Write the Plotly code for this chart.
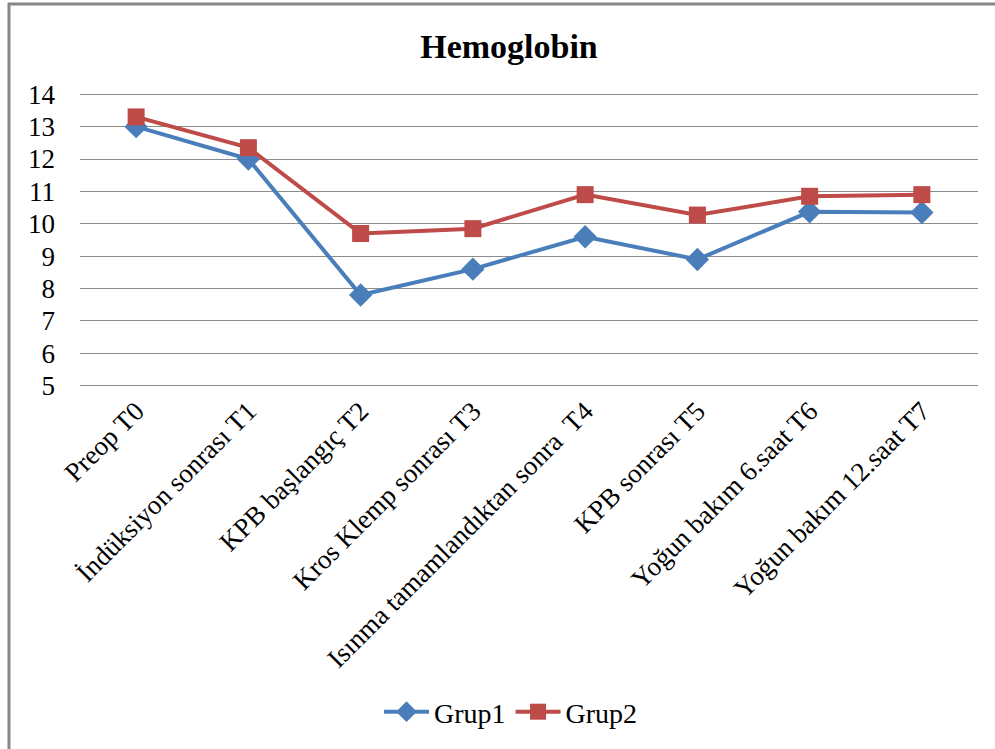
import plotly.graph_objects as go

categories = ["Preop T0", "İndüksiyon sonrası T1", "KPB başlangıç T2", "Kros Klemp sonrası T3",
              "Isınma tamamlandıktan sonra  T4", "KPB sonrası T5", "Yoğun bakım 6.saat T6",
              "Yoğun bakım 12.saat T7"]
grup1 = [13.0, 12.0, 7.8, 8.6, 9.6, 8.9, 10.37, 10.35]
grup2 = [13.3, 12.35, 9.7, 9.85, 10.9, 10.27, 10.85, 10.9]
y_ticks = [5, 6, 7, 8, 9, 10, 11, 12, 13, 14]

FONT = "Liberation Serif"
W, H = 995, 749
L, R, T, B = 80, 978, 91, 389

fig = go.Figure()
fig.add_trace(go.Scatter(x=categories, y=grup1, name="Grup1", mode="lines+markers",
                         line=dict(color="#4A7EBB", width=4),
                         marker=dict(symbol="diamond", size=18, color="#4A7EBB")))
fig.add_trace(go.Scatter(x=categories, y=grup2, name="Grup2", mode="lines+markers",
                         line=dict(color="#BE4B48", width=4),
                         marker=dict(symbol="square", size=17, color="#BE4B48")))

def px_x(px):
    return (px - L) / (R - L)

def px_y(py):
    return (B - py) / (B - T)

fig.update_layout(
    width=W, height=H,
    margin=dict(l=L, r=W - R, t=T, b=H - B),
    paper_bgcolor="white", plot_bgcolor="white",
    font=dict(family=FONT, size=27, color="black"),
    title=dict(text="<b>Hemoglobin</b>", x=509 / W, xref="container", y=1 - 46 / H,
               yref="container", xanchor="center", yanchor="middle",
               font=dict(family=FONT, size=34, color="black")),
    showlegend=True,
    legend=dict(orientation="h", x=511 / W, xref="container", y=1 - 712 / H, yref="container",
                xanchor="center", yanchor="middle", font=dict(family=FONT, size=28),
                itemwidth=45, traceorder="normal"),
    xaxis=dict(type="category", showgrid=False, showline=False, ticks="",
               tickangle=-45, tickfont=dict(family=FONT, size=27), range=[-0.5, 7.5]),
    yaxis=dict(range=[4.9, 14.1], tickvals=y_ticks, showgrid=True, gridcolor="#8C8C8C",
               gridwidth=1, zeroline=False, showline=False, ticks="",
               tickfont=dict(family=FONT, size=27), ticklabelstandoff=24),
    shapes=[
        dict(type="line", xref="paper", yref="paper", x0=px_x(9), x1=px_x(9),
             y0=px_y(3), y1=px_y(760), line=dict(color="#878787", width=3)),
        dict(type="line", xref="paper", yref="paper", x0=px_x(8), x1=px_x(1000),
             y0=px_y(4), y1=px_y(4), line=dict(color="#878787", width=3)),
    ],
)

fig.write_html("out.html", config={"displayModeBar": False},
               post_script="document.body.style.margin='0';document.body.style.overflow='hidden';")
